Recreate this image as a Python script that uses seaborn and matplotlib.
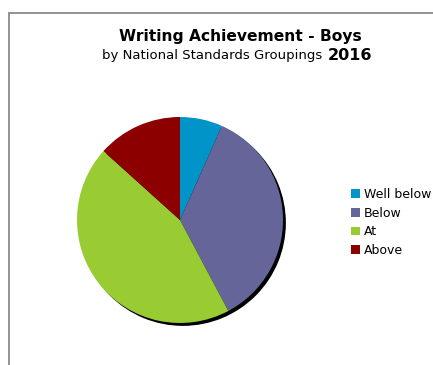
import matplotlib
matplotlib.use("Agg")
import matplotlib.pyplot as plt
import seaborn as sns

# Boys' writing results by National Standards grouping
categories = ["Well below", "Below", "At", "Above"]
counts = [3, 16, 20, 6]
colors = ["#0094C9", "#656599", "#99CB33", "#8C0000"]

sns.set_style("white")
plt.rcParams["font.family"] = ["DejaVu Sans"]
plt.rcParams["text.color"] = "black"

W, H = 433, 365
fig = plt.figure(figsize=(W / 100, H / 100), dpi=100)

# Panel frame (top and left edges visible)
frame = fig.add_axes([0, 0, 1, 1], zorder=-1)
frame.set_xlim(0, W)
frame.set_ylim(H, 0)
frame.axis("off")
frame.plot([8.5, W], [12.5, 12.5], color="#8a8a8a", lw=1.3)
frame.plot([8.5, 8.5], [12.5, H], color="#8a8a8a", lw=1.3)

# Pie
cx, cy, r = 180, 220, 103
ax = fig.add_axes([(cx - r * 1.05) / W, 1 - (cy + r * 1.05) / H,
                   2 * r * 1.05 / W, 2 * r * 1.05 / H])

# drop shadow
ax.pie([1], colors=["black"], radius=1.0, center=(0.028, -0.028),
       wedgeprops=dict(linewidth=0))
wedges, _ = ax.pie(counts, colors=colors, startangle=90, counterclock=False,
                   radius=1.0, wedgeprops=dict(linewidth=0))
ax.set_xlim(-1.05, 1.05)
ax.set_ylim(-1.05, 1.05)
ax.set_aspect("equal")
ax.axis("off")

# Titles
fig.text(240 / W, 1 - 36 / H, "Writing Achievement - Boys", ha="center",
         va="center", fontsize=11.2, fontweight="bold")
fig.text(212 / W, 1 - 56 / H, "by National Standards Groupings", ha="center",
         va="center", fontsize=9.5)
fig.text(372 / W, 1 - 55 / H, "2016", ha="right", va="center",
         fontsize=11.5, fontweight="bold")

# Legend
leg = fig.legend(wedges, categories, loc="upper left",
                 bbox_to_anchor=(345 / W, 1 - 182 / H), frameon=False,
                 fontsize=9, handlelength=0.7, handleheight=0.7,
                 handletextpad=0.3, labelspacing=0.45, borderpad=0)

fig.savefig("out.png", dpi=100)
